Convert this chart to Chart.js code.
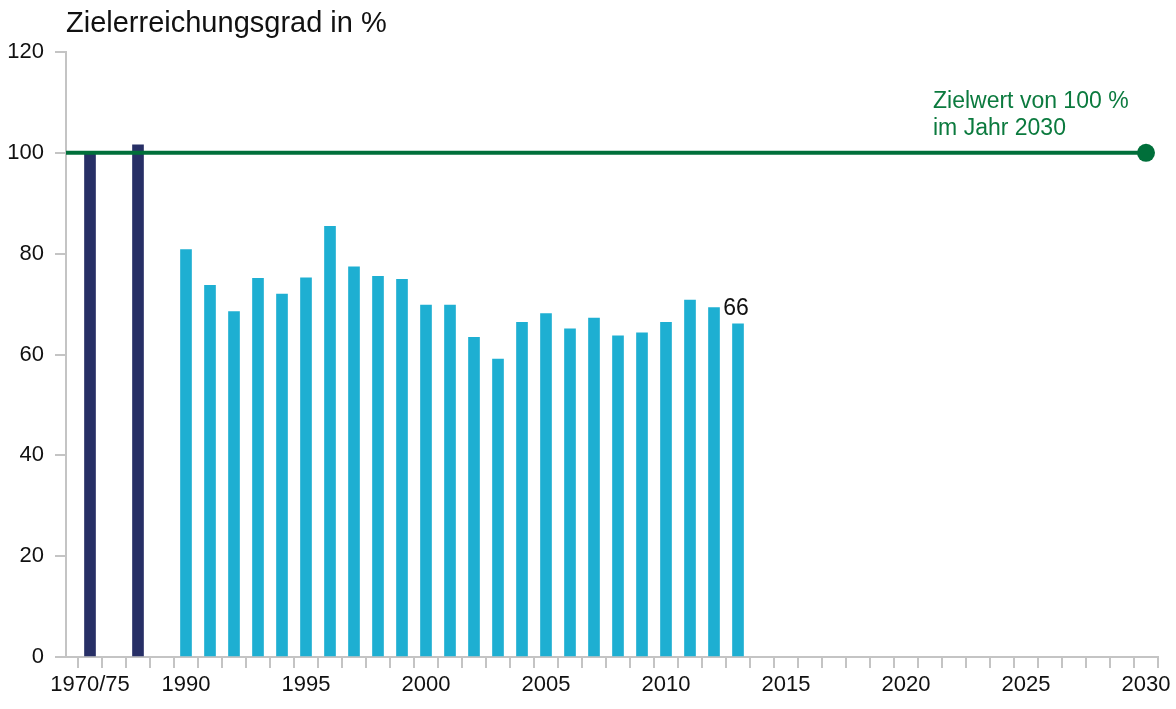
<!DOCTYPE html>
<html>
<head>
<meta charset="utf-8">
<script src="https://cdn.jsdelivr.net/npm/chart.js@4"></script>
<style>
  body { margin: 0; background: #fff; }
  #wrap { position: relative; width: 1176px; height: 709px; }
</style>
</head>
<body>
<div id="wrap"><canvas id="chart" width="1176" height="709"></canvas></div>
<script>
// Daten
const earlyLabels = ['1970/75', ''];
const earlyValues = [100, 101.6];
const years = [1990, 1991, 1992, 1993, 1994, 1995, 1996, 1997, 1998, 1999, 2000, 2001,
               2002, 2003, 2004, 2005, 2006, 2007, 2008, 2009, 2010, 2011, 2012, 2013];
const yearValues = [80.8, 73.7, 68.5, 75.1, 72.0, 75.2, 85.4, 77.4, 75.5, 74.9, 69.8, 69.8,
                    63.4, 59.1, 66.4, 68.1, 65.1, 67.2, 63.7, 64.3, 66.4, 70.8, 69.3, 66.1];
const tickYears = [1990, 1995, 2000, 2005, 2010, 2015, 2020, 2025, 2030];
const targetYear = 2030;
const targetValue = 100;
const lastLabel = '66';

// Die zwei frühen Balken liegen vor 1990, mit je einer Lücke dazwischen
const earlyX = earlyLabels.map((l, i) => 1986 + i * 2);
const xMin = 1985, xMax = 2030.5;

const FONT = "'Liberation Sans', Arial, sans-serif";
const grau = '#c4c4c4';
const gruen = '#006f3a';

// Ticks: Striche auf halben Jahren, Beschriftungen auf ganzen
const labelFor = {};
earlyLabels.forEach((l, i) => { if (l) labelFor[earlyX[i]] = l; });
tickYears.forEach(t => { labelFor[t] = String(t); });

// Titel, Beschriftung "66" und Zielwert-Text
const textPlugin = {
  id: 'texte',
  afterDraw(chart) {
    const { ctx, scales: { x, y } } = chart;
    ctx.save();
    ctx.font = '29px ' + FONT;
    ctx.fillStyle = '#111';
    ctx.textBaseline = 'middle';
    ctx.textAlign = 'left';
    ctx.fillText('Zielerreichungsgrad in %', 66, 24);

    const i = years.length - 1;
    ctx.font = '23px ' + FONT;
    ctx.textAlign = 'center';
    ctx.textBaseline = 'bottom';
    ctx.fillText(lastLabel, x.getPixelForValue(years[i]) - 2, y.getPixelForValue(yearValues[i]) - 4);

    ctx.fillStyle = '#0b7a3e';
    ctx.textAlign = 'left';
    ctx.textBaseline = 'middle';
    ctx.fillText('Zielwert von 100 %', 933, 102);
    ctx.fillText('im Jahr 2030', 933, 129);
    ctx.restore();
  }
};

new Chart(document.getElementById('chart'), {
  type: 'bar',
  data: {
    datasets: [
      {
        type: 'line',
        data: [{ x: xMin, y: targetValue }, { x: targetYear, y: targetValue }],
        borderColor: gruen,
        backgroundColor: gruen,
        borderWidth: 4,
        pointRadius: [0, 9],
        pointHoverRadius: [0, 9],
        pointBorderWidth: 0,
        order: 0
      },
      {
        data: earlyX.map((x, i) => ({ x: x, y: earlyValues[i] })),
        backgroundColor: '#272f66',
        barThickness: 11,
        grouped: false,
        order: 1
      },
      {
        data: years.map((x, i) => ({ x: x, y: yearValues[i] })),
        backgroundColor: '#1eafd2',
        barThickness: 11,
        grouped: false,
        order: 1
      }
    ]
  },
  options: {
    responsive: false,
    animation: false,
    layout: { padding: { top: 52, right: 18, left: 0, bottom: 0 } },
    plugins: { legend: { display: false }, tooltip: { enabled: false } },
    scales: {
      x: {
        type: 'linear',
        min: xMin,
        max: xMax,
        offset: false,
        afterBuildTicks(axis) {
          const t = [];
          for (let v = xMin + 0.5; v <= xMax; v += 0.5) t.push({ value: v });
          axis.ticks = t;
        },
        afterFit(axis) { axis.height = 52; },
        grid: {
          offset: false,
          drawOnChartArea: false,
          tickLength: 11,
          lineWidth: 2,
          color: c => (c.tick && c.tick.value % 1 !== 0) ? grau : 'rgba(0,0,0,0)'
        },
        border: { color: grau, width: 2 },
        ticks: {
          autoSkip: false,
          maxRotation: 0,
          padding: 4,
          color: '#111',
          font: { family: FONT, size: 22 },
          callback: v => labelFor[v] || ''
        }
      },
      y: {
        min: 0,
        max: 120,
        afterFit(axis) { axis.width = 66; },
        grid: { drawOnChartArea: false, tickLength: 11, lineWidth: 2, color: grau },
        border: { color: grau, width: 2 },
        ticks: {
          stepSize: 20,
          padding: 11,
          color: '#111',
          font: { family: FONT, size: 22 }
        }
      }
    }
  },
  plugins: [textPlugin]
});
</script>
</body>
</html>
